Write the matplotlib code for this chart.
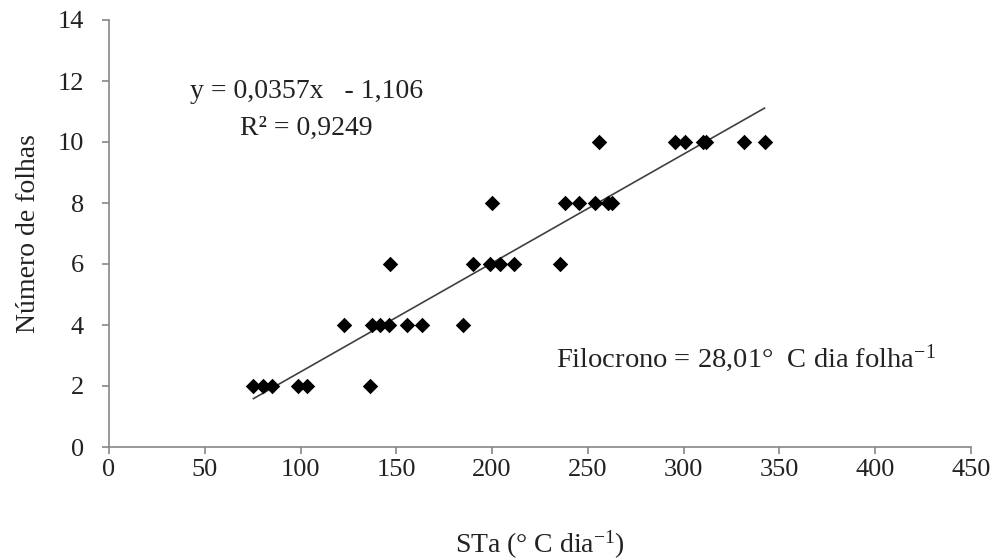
import numpy as np
import matplotlib
matplotlib.use("Agg")
import matplotlib.pyplot as plt

plt.rcParams['font.family'] = ['Liberation Serif', 'DejaVu Serif']
plt.rcParams['mathtext.fontset'] = 'custom'
plt.rcParams['mathtext.rm'] = 'Liberation Serif'
plt.rcParams['mathtext.it'] = 'Liberation Serif'

# soma termica (STa) and number of leaves
sta = [75.4, 80.6, 85.0, 98.9, 103.3, 136.0,
       122.9, 137.5, 141.5, 146.4, 155.5, 163.3, 184.7,
       146.7, 190.2, 199.0, 204.2, 211.6, 235.5,
       199.9, 237.8, 245.1, 253.8, 260.5, 262.8,
       255.9, 295.6, 300.8, 310.0, 311.5, 331.7, 342.2]
folhas = [2, 2, 2, 2, 2, 2,
          4, 4, 4, 4, 4, 4, 4,
          6, 6, 6, 6, 6, 6,
          8, 8, 8, 8, 8, 8,
          10, 10, 10, 10, 10, 10, 10]

slope = 0.0357
intercept = -1.106
x_ticks = [0, 50, 100, 150, 200, 250, 300, 350, 400, 450]
y_ticks = [0, 2, 4, 6, 8, 10, 12, 14]

txt = '#222222'
fig = plt.figure(figsize=(9.94, 5.6), dpi=100)
ax = fig.add_axes([109/994, 113/560, 862/994, 427/560])

ax.scatter(sta, folhas, marker='D', s=62, color='black', zorder=3, linewidths=0)

xl = np.array([min(sta), max(sta)])
ax.plot(xl, slope*xl + intercept, color='#404040', lw=1.2, zorder=2)

ax.set_xlim(0, 450)
ax.set_ylim(0, 14)
ax.set_xticks(x_ticks)
ax.set_yticks(y_ticks)

for s in ['top', 'right']:
    ax.spines[s].set_visible(False)
for s in ['left', 'bottom']:
    ax.spines[s].set_color('#868686')
    ax.spines[s].set_linewidth(1.2)
ax.tick_params(direction='out', length=5, width=1.2, color='#868686',
               labelsize=19, labelcolor=txt)
ax.tick_params(axis='y', pad=13)
ax.tick_params(axis='x', pad=4)

ax.set_xlabel('STa (° C dia$^{-1}$)', fontsize=20, color=txt, labelpad=34)
ax.set_ylabel('Número de folhas', fontsize=20, color=txt, labelpad=12)

ax.text(103, 11.65, 'y = 0,0357x   - 1,106', fontsize=20, ha='center', va='center', color=txt)
ax.text(103, 10.45, 'R² = 0,9249', fontsize=20, ha='center', va='center', color=txt)
ax.text(233.5, 2.92, 'Filocrono = 28,01°  C dia folha$^{-1}$', fontsize=20.5,
        ha='left', va='center', color=txt)

fig.savefig('out.png', dpi=100)
